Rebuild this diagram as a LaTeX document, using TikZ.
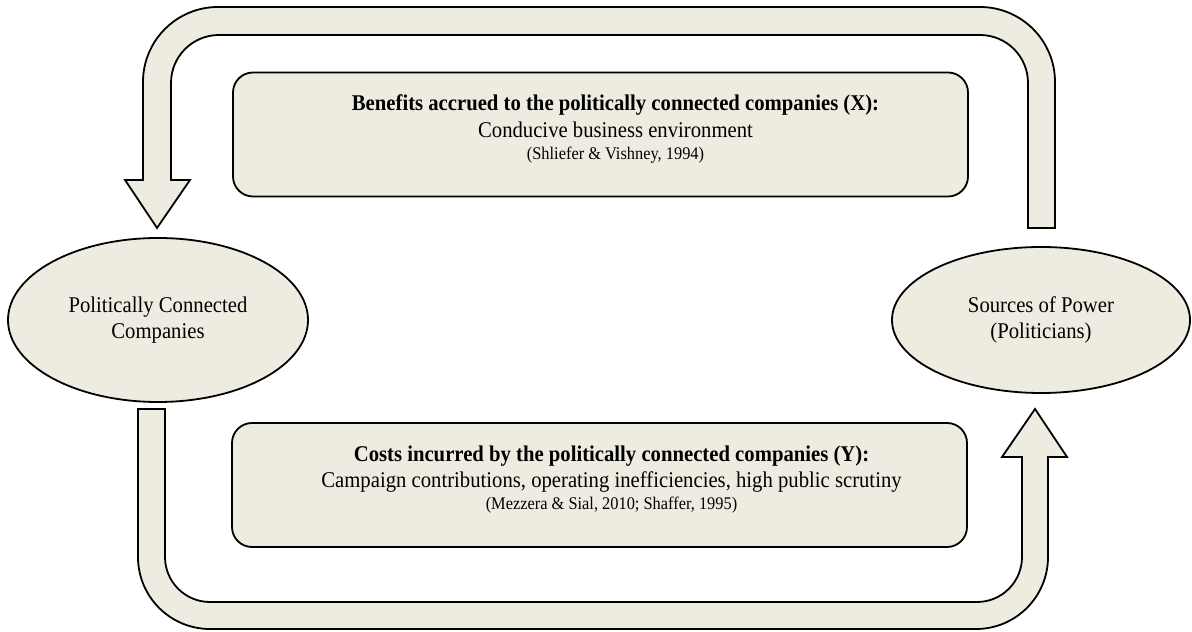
\documentclass[tikz,border=0pt]{standalone}
\usepackage{fontspec}
\setmainfont{Liberation Serif}[FakeStretch=0.92]
\usetikzlibrary{shapes.geometric,positioning}
\definecolor{sable}{HTML}{EEECE1}

\begin{document}
\begin{tikzpicture}[x=1pt, y=1pt]
\tikzset{ovale/.style={draw, ellipse, fill=sable, line width=1.8pt, inner sep=0pt, align=center, font=\fontsize{22.5}{25.5}\selectfont},
cadre/.style={draw, rounded corners=20pt, fill=sable, line width=1.8pt, minimum width=735pt, minimum height=124pt},
fleche/.style={draw, fill=sable, line width=1.8pt},
texte/.style={align=center, inner sep=0pt, font=\fontsize{22.5}{26}\selectfont}}
\useasboundingbox (0,0) rectangle (1192,632);
\draw[fleche] (1028,404) -- (1028,549) arc (0:90:48) -- (219,597) arc (90:180:48) -- (171,452) -- (190,452) -- (157,404) -- (125,452) -- (143,452) -- (143,550) arc (180:90:75) -- (980,625) arc (90:0:75) -- (1055,404) -- cycle;
\draw[fleche] (138,223) -- (138,75) arc (180:270:72) -- (976,3) arc (270:360:72) -- (1048,175) -- (1067,175) -- (1035,223) -- (1002,175) -- (1022,175) -- (1022,75) arc (0:-90:45) -- (210,30) arc (270:180:45) -- (165,223) -- cycle;
\node[ovale, minimum width=300pt, minimum height=164pt] (pcc) at (158,312) {Politically Connected\\Companies};
\node[ovale, minimum width=298pt, minimum height=146pt] (pouvoir) at (1041,312) {Sources of Power\\(Politicians)};
\node[cadre] (benefices) at (600.5,497.5) {};
\node[cadre] (couts) at (599.5,147) {};
\node[texte, below=23pt of benefices.north, xshift=15pt] (beneficestxt) {\textbf{Benefits accrued to the politically connected companies (X):}\\[1pt]Conducive business environment\\[-4pt]{\fontsize{17.8}{21}\selectfont (Shliefer \& Vishney, 1994)}};
\node[texte, below=24pt of couts.north, xshift=12pt] (coutstxt) {\textbf{Costs incurred by the politically connected companies (Y):}\\Campaign contributions, operating inefficiencies, high public scrutiny\\[-4pt]{\fontsize{17.8}{21}\selectfont (Mezzera \& Sial, 2010; Shaffer, 1995)}};
\end{tikzpicture}
\end{document}
